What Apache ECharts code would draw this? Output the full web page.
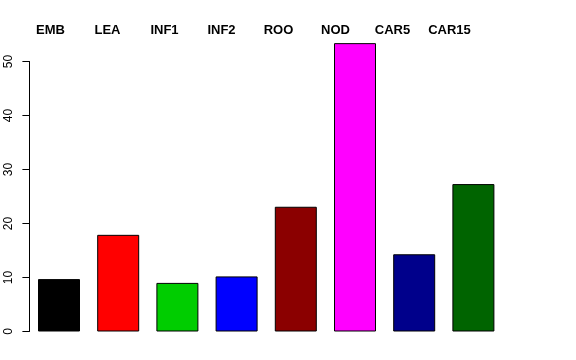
<!DOCTYPE html>
<html>
<head>
<meta charset="utf-8">
<script src="https://cdn.jsdelivr.net/npm/echarts@6/dist/echarts.min.js"></script>
<style>html,body{margin:0;padding:0;background:#fff}#c{width:576px;height:360px}</style>
</head>
<body>
<div id="c"></div>
<script>
var categories = ['EMB','LEA','INF1','INF2','ROO','NOD','CAR5','CAR15'];
var values = [9.7, 17.9, 9.0, 10.2, 23.1, 53.4, 14.3, 27.3];
var colors = ['#000000','#FF0000','#00CD00','#0000FF','#8B0000','#FF00FF','#00008B','#006400'];
var yTicks = [0, 10, 20, 30, 40, 50];

var font = 'Liberation Sans, Arial, Helvetica, sans-serif';
var chart = echarts.init(document.getElementById('c'), null, {renderer: 'canvas'});
chart.setOption({
  animation: false,
  backgroundColor: '#fff',
  grid: [
    {left: 29.4, width: 473.6, top: 34.5, bottom: 28.5},
    {left: 29.4, width: 473.6, top: 61.5, bottom: 28.5},
    {left: 22, width: 456, top: 40, height: 10}
  ],
  xAxis: [
    {type: 'category', gridIndex: 0, data: categories, boundaryGap: true,
     axisLine: {show: false}, axisTick: {show: false}, axisLabel: {show: false}},
    {type: 'category', gridIndex: 1, data: categories, show: false},
    {type: 'category', gridIndex: 2, data: categories, position: 'top',
     axisLine: {show: false}, axisTick: {show: false},
     axisLabel: {show: true, interval: 0, fontFamily: font, fontWeight: 'bold', fontSize: 13, color: '#000', margin: 3}}
  ],
  yAxis: [
    {type: 'value', gridIndex: 0, min: 0, max: 55, show: false, splitLine: {show: false}},
    {type: 'value', gridIndex: 1, min: yTicks[0], max: yTicks[yTicks.length - 1], interval: 10,
     axisLine: {show: true, lineStyle: {color: '#000', width: 1}},
     axisTick: {show: true, length: 7, lineStyle: {color: '#000'}},
     splitLine: {show: false},
     axisLabel: {show: true, rotate: 90, margin: 15, fontFamily: font, fontSize: 12, color: '#000'}},
    {type: 'value', gridIndex: 2, show: false}
  ],
  series: [{
    type: 'bar',
    xAxisIndex: 0, yAxisIndex: 0,
    barWidth: 42,
    data: values.map(function (v, i) {
      return {value: v, itemStyle: {color: colors[i], borderColor: '#000', borderWidth: 1}};
    })
  }]
});
</script>
</body>
</html>
